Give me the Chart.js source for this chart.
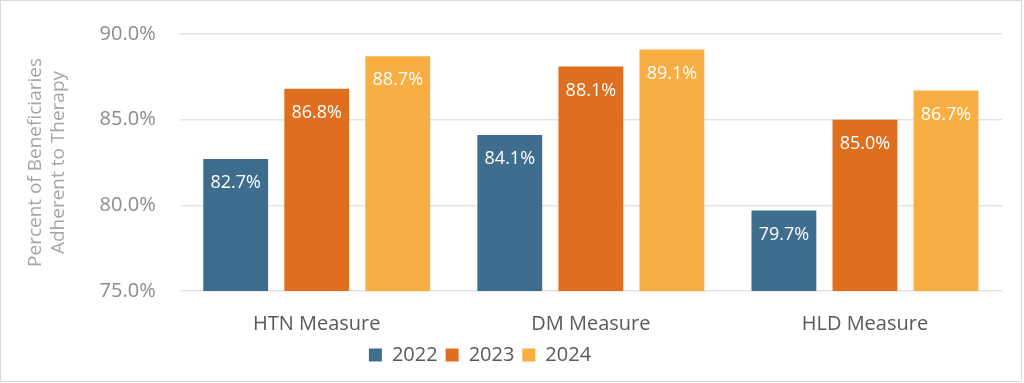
<!DOCTYPE html>
<html>
<head>
<meta charset="utf-8">
<script src="https://cdn.jsdelivr.net/npm/chart.js@4.4.1/dist/chart.umd.min.js"></script>
<style>
  html, body { margin: 0; padding: 0; background: #fff; }
  .box { width: 1020px; height: 380px; border: 1px solid #d9d9d9; position: relative; }
</style>
</head>
<body>
<div class="box"><canvas id="barChart" width="1020" height="380"></canvas></div>
<script>
const categories = ["HTN Measure", "DM Measure", "HLD Measure"];
const years = ["2022", "2023", "2024"];
const values2022 = [82.7, 84.1, 79.7];
const values2023 = [86.8, 88.1, 85.0];
const values2024 = [88.7, 89.1, 86.7];
const yTicks = [75, 80, 85, 90];

const colors = ["#3e6d8e", "#e06e1f", "#f8ae42"];

// white value labels just inside the top of each bar
const barLabels = {
  id: "barLabels",
  afterDatasetsDraw(chart) {
    const ctx = chart.ctx;
    ctx.save();
    ctx.fillStyle = "#ffffff";
    ctx.font = "18px 'Open Sans'";
    ctx.textAlign = "center";
    ctx.textBaseline = "middle";
    chart.data.datasets.forEach((ds, i) => {
      chart.getDatasetMeta(i).data.forEach((bar, j) => {
        ctx.fillText(ds.data[j].toFixed(1) + "%", bar.x, bar.y + 24);
      });
    });
    ctx.restore();
  }
};

// legend sits a little left of the canvas centre in the original
const legendShift = {
  id: "legendShift",
  afterLayout(chart) {
    chart.legend.right -= 62;
  }
};

new Chart(document.getElementById("barChart"), {
  type: "bar",
  data: {
    labels: categories,
    datasets: [
      { label: years[0], data: values2022, backgroundColor: colors[0] },
      { label: years[1], data: values2023, backgroundColor: colors[1] },
      { label: years[2], data: values2024, backgroundColor: colors[2] }
    ]
  },
  options: {
    responsive: false,
    animation: false,
    categoryPercentage: 0.887,
    barPercentage: 0.80,
    layout: { padding: { top: 33, right: 19, left: 19, bottom: 6 } },
    plugins: {
      legend: {
        position: "bottom",
        labels: {
          color: "#595959",
          font: { family: "'Open Sans'", size: 20 },
          boxWidth: 13,
          boxHeight: 13,
          padding: 8
        }
      },
      tooltip: { enabled: false }
    },
    scales: {
      x: {
        grid: { display: false },
        border: { display: false },
        ticks: { color: "#595959", font: { family: "'Open Sans'", size: 20 }, padding: 13 },
        afterFit: axis => { axis.height -= 12; }
      },
      y: {
        min: 75,
        max: 90,
        afterBuildTicks: axis => { axis.ticks = yTicks.map(v => ({ value: v })); },
        afterFit: axis => { axis.paddingTop = 0; },
        ticks: {
          color: "#8c8c8c",
          font: { family: "'Open Sans'", size: 20 },
          padding: 24,
          callback: v => v.toFixed(1) + "%"
        },
        grid: { color: "#e3e3e3", lineWidth: 1.5, drawTicks: false },
        border: { display: false },
        title: {
          display: true,
          text: ["Percent of Beneficiaries", "Adherent to Therapy"],
          color: "#a6a6a6",
          font: { family: "'Open Sans'", size: 19 },
          padding: { bottom: 6 }
        }
      }
    }
  },
  plugins: [barLabels, legendShift]
});
</script>
</body>
</html>
